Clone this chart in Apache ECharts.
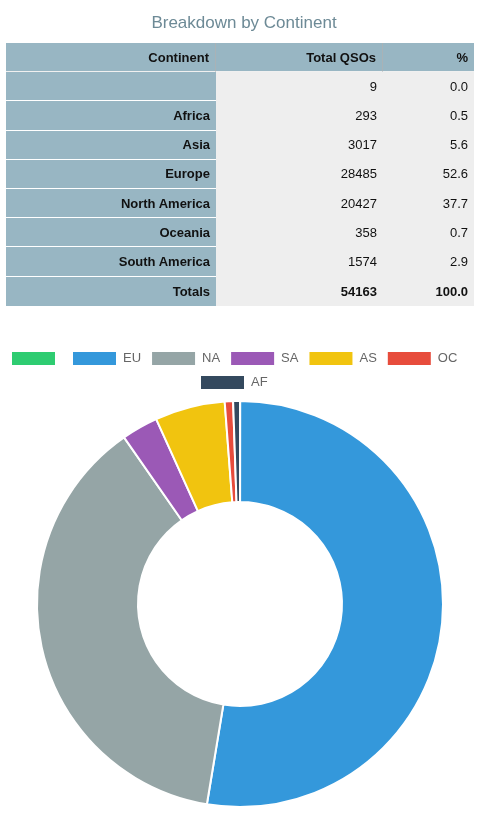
<!DOCTYPE html>
<html>
<head>
<meta charset="utf-8">
<script src="https://cdn.jsdelivr.net/npm/echarts@6/dist/echarts.min.js"></script>
<style>
  html, body { margin: 0; padding: 0; background: #fff; }
  body { width: 488px; height: 815px; position: relative; overflow: hidden; font-family: "Liberation Sans", Arial, sans-serif; }
  #chart { position: absolute; left: 0; top: 0; width: 488px; height: 815px; }
  #tbl { position: absolute; left: 6px; top: 43px; width: 468px; border-collapse: separate; border-spacing: 0; font-size: 13px; color: #111; table-layout: fixed; }
  #tbl th, #tbl td { text-align: right; padding: 0 6px 0 4px; height: 28.2px; vertical-align: middle; box-sizing: border-box; }
  #tbl th { background: #98b6c3; font-weight: bold; border-right: 1px solid #a9b2b6; border-bottom: 1px solid #f0f0f0; }
  #tbl th:last-child { border-right: none; }
  #tbl td { background: #eeeeee; border-bottom: 1px solid #eeeeee; }
  #tbl td.c { background: #98b6c3; font-weight: bold; border-bottom: 1px solid #ffffff; }
  #tbl tr:last-child td { font-weight: bold; border-bottom: none; }
  #tbl tr { height: 29.2px; }
</style>
</head>
<body>
<div id="chart"></div>
<table id="tbl"></table>
<script>
// ---- data ----
var tableContinents = ['', 'Africa', 'Asia', 'Europe', 'North America', 'Oceania', 'South America'];
var tableQSOs = [9, 293, 3017, 28485, 20427, 358, 1574];
var tablePct = ['0.0', '0.5', '5.6', '52.6', '37.7', '0.7', '2.9'];
var totalQSOs = 54163;
var totalPct = '100.0';
var tableHeaders = ['Continent', 'Total QSOs', '%'];

var pieCodes = ['', 'EU', 'NA', 'SA', 'AS', 'OC', 'AF'];
var pieValues = [9, 28485, 20427, 1574, 3017, 358, 293];
var pieColors = ['#2ecc71', '#3498db', '#95a5a6', '#9b59b6', '#f1c40f', '#e74c3c', '#34495e'];

// ---- table ----
var tbl = document.getElementById('tbl');
var html = '<colgroup><col style="width:210px"><col style="width:167px"><col style="width:91px"></colgroup>';
html += '<tr>' + tableHeaders.map(function (h) { return '<th>' + h + '</th>'; }).join('') + '</tr>';
for (var i = 0; i < tableContinents.length; i++) {
  html += '<tr><td class="c">' + tableContinents[i] + '</td><td>' + tableQSOs[i] + '</td><td>' + tablePct[i] + '</td></tr>';
}
html += '<tr><td class="c">Totals</td><td>' + totalQSOs + '</td><td>' + totalPct + '</td></tr>';
tbl.innerHTML = html;

// ---- chart ----
// ECharts treats '' in legend data as a line break, so the empty code is shown as a zero-width space
var names = pieCodes.map(function (c) { return c === '' ? '\u200b' : c; });
var pieData = names.map(function (n, i) {
  return { name: n, value: pieValues[i], itemStyle: { color: pieColors[i] } };
});

var chart = echarts.init(document.getElementById('chart'), null, { renderer: 'canvas' });
var legendCommon = {
  orient: 'horizontal',
  icon: 'rect',
  itemWidth: 43,
  itemHeight: 13,
  itemGap: 11,
  padding: 0,
  selectedMode: false,
  itemStyle: { borderWidth: 0 },
  textStyle: { color: '#666', fontSize: 13, fontFamily: 'Liberation Sans, Arial, sans-serif', padding: [0, 0, 0, 2] }
};
chart.setOption({
  animation: false,
  title: {
    text: 'Breakdown by Continent',
    left: 'center',
    top: 10,
    textStyle: { color: '#6d8a96', fontSize: 17, fontWeight: 'normal', fontFamily: 'Liberation Sans, Arial, sans-serif' }
  },
  legend: [
    Object.assign({}, legendCommon, { left: 12, top: 352, data: names.slice(0, 6) }),
    Object.assign({}, legendCommon, { left: 201, top: 376, data: names.slice(6) })
  ],
  series: [{
    type: 'pie',
    center: [240, 604],
    radius: [102, 203],
    startAngle: 90,
    clockwise: true,
    avoidLabelOverlap: false,
    label: { show: false },
    labelLine: { show: false },
    emphasis: { disabled: true },
    itemStyle: { borderColor: '#ffffff', borderWidth: 2 },
    data: pieData
  }]
});
</script>
</body>
</html>
